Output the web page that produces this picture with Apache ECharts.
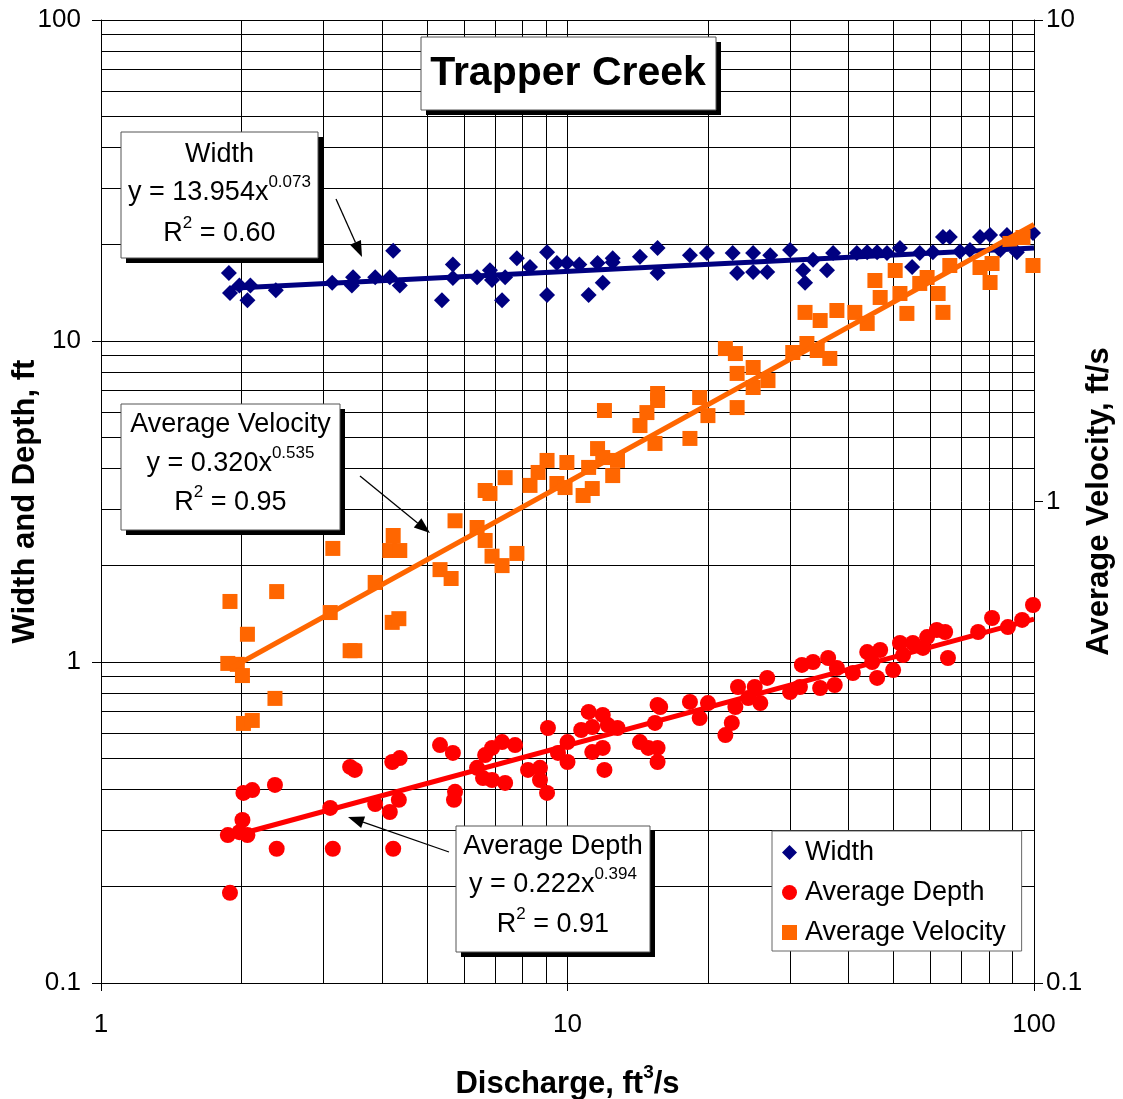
<!DOCTYPE html>
<html><head><meta charset="utf-8">
<script src="https://cdn.jsdelivr.net/npm/echarts@6/dist/echarts.min.js"></script>
<style>html,body{margin:0;padding:0;background:#fff}#c{width:1123px;height:1099px}</style>
</head><body><div id="c"></div>
<script>
// ---- Data ----
const widthQ = [1.88,1.89,1.98,2.06,2.09,2.37,3.13,3.45,3.47,3.87,4.23,4.16,4.37,5.38,5.68,5.68,6.40,6.82,6.89,7.24,7.35,7.79,8.31,9.04,9.04,9.49,9.97,10.6,11.1,11.9,11.6,12.5,12.5,14.3,15.6,15.6,18.3,19.9,22.6,23.1,25.0,25.0,26.8,27.2,30.0,32.0,32.3,33.6,36.0,37.1,41.7,43.9,46.1,51.6,54.8,56.9,60.7,63.8,66.0,76.6,80.5,87.5,99.5,84.6,91.9,48.4,69.4,72.9];
const widthFt = [16.3,14.1,14.9,13.4,14.9,14.4,15.2,14.9,15.8,15.8,19.1,15.8,14.9,13.4,17.3,15.7,15.8,16.6,15.5,13.4,15.8,18.1,17.0,18.9,13.9,17.5,17.5,17.3,13.9,15.2,17.5,17.6,18.1,18.3,19.5,16.3,18.5,18.8,18.8,16.3,18.8,16.4,16.4,18.5,19.2,16.6,15.2,17.9,16.6,18.8,18.8,18.9,18.9,19.5,17.0,18.8,18.9,21.1,21.1,21.1,21.4,21.4,21.7,19.2,18.9,18.8,19.0,19.2];

const depthQ = [1.87,1.98,2.06,2.01,2.02,2.11,2.36,2.38,1.89,3.10,3.14,3.42,3.50,3.87,4.16,4.23,4.21,4.37,4.35,5.33,5.68,5.74,5.71,6.40,6.66,6.89,7.24,7.72,6.59,6.89,7.35,8.23,8.73,8.73,9.04,9.08,9.54,10.0,10.0,10.7,11.1,11.3,11.9,11.3,11.9,12.0,12.2,12.8,14.3,14.9,15.6,15.6,15.4,15.6,15.8,18.3,19.2,20.0,21.8,22.5,22.9,23.2,24.4,25.2,25.9,26.8,30.0,31.5,31.8,33.6,34.8,36.2,37.4,37.8,40.9,43.9,46.1,46.8,45.0,49.9,51.6,52.4,55.0,57.8,59.0,61.9,64.5,65.4,75.9,81.3,87.9,94.3,99.5];
const depthFt = [0.289,0.295,0.289,0.322,0.391,0.399,0.414,0.262,0.191,0.351,0.262,0.471,0.461,0.361,0.341,0.262,0.488,0.502,0.372,0.551,0.521,0.394,0.372,0.468,0.513,0.540,0.563,0.551,0.435,0.429,0.420,0.461,0.468,0.429,0.391,0.623,0.521,0.563,0.488,0.614,0.699,0.627,0.684,0.524,0.540,0.461,0.636,0.623,0.563,0.540,0.540,0.488,0.646,0.735,0.724,0.751,0.669,0.745,0.592,0.646,0.724,0.836,0.772,0.836,0.745,0.892,0.806,0.836,0.979,1.0,0.830,1.029,0.848,0.958,0.924,1.074,0.892,1.090,1.0,0.944,1.146,1.051,1.146,1.106,1.196,1.258,1.240,1.029,1.240,1.371,1.285,1.352,1.505];

const velocityQ = [1.89,2.38,2.06,1.87,1.96,2.01,2.36,2.02,2.11,3.10,3.87,3.14,4.23,4.16,4.37,3.42,3.50,4.21,4.35,5.33,5.63,5.74,6.40,6.66,6.89,7.24,7.79,6.66,6.82,7.35,8.31,8.65,9.04,9.49,9.97,9.88,10.8,11.3,11.1,11.6,11.9,12.5,12.8,12.0,14.3,14.8,15.4,15.6,15.6,18.3,19.2,20.0,21.8,22.9,23.1,25.0,25.0,23.1,26.9,30.4,32.6,34.3,36.5,32.3,34.8,37.8,41.3,43.9,45.6,46.8,50.4,51.6,53.4,56.9,59.0,62.3,63.8,66.0,76.6,81.3,80.5,88.8,94.7,99.5];
const velocityFps = [0.620,0.650,0.530,0.461,0.459,0.435,0.390,0.346,0.351,0.588,0.679,0.799,0.850,0.791,0.791,0.490,0.490,0.561,0.571,0.722,0.692,0.912,0.883,0.830,0.770,0.736,0.780,1.054,1.039,1.121,1.080,1.149,1.217,1.090,1.205,1.069,1.029,1.064,1.177,1.288,1.234,1.132,1.217,1.545,1.438,1.530,1.320,1.676,1.621,1.352,1.644,1.508,2.078,2.029,1.845,1.898,1.725,1.567,1.783,2.039,2.129,2.059,1.982,2.470,2.376,2.493,2.470,2.343,2.877,2.653,3.018,2.704,2.458,2.837,2.919,2.704,2.470,3.091,3.062,3.121,2.850,3.435,3.534,3.091];

// Power-law trend lines (end points)
const widthTrendQ = [1.9, 100];
const widthTrendFt = [14.6, 19.5];
const depthTrendQ = [1.9, 100];
const depthTrendFt = [0.286, 1.36];
const velocityTrendQ = [1.9, 100];
const velocityTrendFps = [0.451, 3.76];

// Tick labels
const xTicks = ['1', '10', '100'];
const yLeftTicks = ['0.1', '1', '10', '100'];
const yRightTicks = ['0.1', '1', '10'];

// Annotation text
const titleText = 'Trapper Creek';
const widthNote = ['Width', 'y = 13.954x{s|0.073}', 'R{s|2} = 0.60'];
const velocityNote = ['Average Velocity', 'y = 0.320x{s|0.535}', 'R{s|2} = 0.95'];
const depthNote = ['Average Depth', 'y = 0.222x{s|0.394}', 'R{s|2} = 0.91'];

// ---- Chart ----
const FONT = "'Liberation Sans', Arial, Helvetica, sans-serif";
const zip = (a, b) => a.map((v, i) => [v, b[i]]);
const fmt = v => String(+v.toPrecision(3));

const xMinor = [], yMinor = [];
[1, 10].forEach(d => { for (let k = 2; k <= 9; k++) xMinor.push(+(k * d).toPrecision(3)); });
[0.1, 1, 10].forEach(d => { for (let k = 2; k <= 9; k++) yMinor.push(+(k * d).toPrecision(3)); });

const chart = echarts.init(document.getElementById('c'), null, { renderer: 'canvas' });

function arrow(x1, y1, x2, y2) {
  const dx = x2 - x1, dy = y2 - y1, L = Math.hypot(dx, dy);
  const ux = dx / L, uy = dy / L, hl = 16, hw = 6;
  const bx = x2 - ux * hl, by = y2 - uy * hl;
  return [
    { type: 'line', silent: true, z: 100, shape: { x1, y1, x2: bx, y2: by }, style: { stroke: '#000', lineWidth: 1.3 } },
    { type: 'polygon', silent: true, z: 100, shape: { points: [[x2, y2], [bx - uy * hw, by + ux * hw], [bx + uy * hw, by - ux * hw]] }, style: { fill: '#000' } }
  ];
}

function noteBox(x, y, w, h, lines, lineYs) {
  const els = [
    { type: 'rect', silent: true, z: 100, shape: { x: x + 5, y: y + 5, width: w, height: h }, style: { fill: '#000' } },
    { type: 'rect', silent: true, z: 101, shape: { x, y, width: w, height: h }, style: { fill: '#fff', stroke: '#555', lineWidth: 1 } }
  ];
  lines.forEach((t, i) => {
    els.push({
      type: 'text', silent: true, z: 102, x: x + w / 2, y: lineYs[i],
      style: {
        text: t, fill: '#000', font: '27px ' + FONT, align: 'center', verticalAlign: 'middle',
        lineHeight: 38,
        rich: { s: { fontSize: 17, fontFamily: FONT, lineHeight: 17, verticalAlign: 'top', fill: '#000' } }
      }
    });
  });
  return els;
}

const graphics = [
  { type: 'rect', silent: true, z: 100, shape: { x: 426, y: 42, width: 295, height: 73 }, style: { fill: '#000' } },
  { type: 'rect', silent: true, z: 101, shape: { x: 421, y: 37, width: 295, height: 73 }, style: { fill: '#fff', stroke: '#555', lineWidth: 1 } },
  { type: 'text', silent: true, z: 102, x: 568, y: 74, style: { text: titleText, fill: '#000', font: 'bold 41px ' + FONT, align: 'center', verticalAlign: 'middle' } },
  ...noteBox(121, 132, 197, 126, widthNote, [155, 193, 234]),
  ...noteBox(121, 404, 219, 126, velocityNote, [425, 464, 503]),
  ...noteBox(456, 826, 194, 126, depthNote, [847, 885, 925]),
  ...arrow(336, 199, 362, 257),
  ...arrow(360, 476, 430, 533),
  ...arrow(449, 852, 348, 817)
];

const axisNameStyle = {
  fontFamily: FONT, fontSize: 31, fontWeight: 'bold', color: '#000'
};
const xNameStyle = {
  fontFamily: FONT, fontSize: 31, fontWeight: 'bold', color: '#000', lineHeight: 42,
  rich: { s: { fontFamily: FONT, fontSize: 19, fontWeight: 'bold', color: '#000', lineHeight: 19, verticalAlign: 'top' } }
};

const option = {
  animation: false,
  backgroundColor: '#fff',
  grid: { left: 101, right: 89, top: 20, bottom: 116, containLabel: false, outerBoundsMode: 'none' },
  xAxis: {
    type: 'log', logBase: 10, min: 1, max: 100,
    axisLine: { show: true, lineStyle: { color: '#000', width: 1 } },
    axisTick: { show: true, length: 8, lineStyle: { color: '#000' } },
    axisLabel: { fontFamily: FONT, fontSize: 26, color: '#000', margin: 29,
      formatter: v => xTicks.includes(fmt(v)) ? fmt(v) : '' },
    splitLine: { show: true, lineStyle: { color: '#000', width: 1 } },
    name: 'Discharge, ft{s|3}/s', nameLocation: 'middle', nameGap: 80,
    nameTextStyle: xNameStyle
  },
  yAxis: [
    {
      type: 'log', logBase: 10, min: 0.1, max: 100, position: 'left',
      axisLine: { show: true, lineStyle: { color: '#000', width: 1 } },
      axisTick: { show: true, length: 9, lineStyle: { color: '#000' } },
      axisLabel: { fontFamily: FONT, fontSize: 26, color: '#000', margin: 20,
        formatter: v => yLeftTicks.includes(fmt(v)) ? fmt(v) : '' },
      splitLine: { show: true, lineStyle: { color: '#000', width: 1 } },
      name: 'Width and Depth, ft', nameLocation: 'middle', nameRotate: 90, nameGap: 60,
      nameMoveOverlap: false,
      nameTextStyle: axisNameStyle
    },
    {
      type: 'log', logBase: 10, min: 0.1, max: 10, position: 'right',
      axisLine: { show: true, lineStyle: { color: '#000', width: 1 } },
      axisTick: { show: true, length: 9, lineStyle: { color: '#000' } },
      axisLabel: { fontFamily: FONT, fontSize: 26, color: '#000', margin: 12,
        formatter: v => yRightTicks.includes(fmt(v)) ? fmt(v) : '' },
      splitLine: { show: false },
      name: 'Average Velocity, ft/s', nameLocation: 'middle', nameRotate: 90, nameGap: 50,
      nameMoveOverlap: false,
      nameTextStyle: axisNameStyle
    }
  ],
  legend: {
    orient: 'vertical', left: 772, top: 831,
    backgroundColor: '#fff', borderColor: '#666', borderWidth: 1,
    padding: [8, 16, 5, 10], itemGap: 13, itemWidth: 15, itemHeight: 15,
    textStyle: { fontFamily: FONT, fontSize: 27, color: '#000', padding: [0, 0, 0, 3] },
    data: [
      { name: 'Width', icon: 'diamond' },
      { name: 'Average Depth', icon: 'circle' },
      { name: 'Average Velocity', icon: 'rect' }
    ],
    selectedMode: false, z: 50
  },
  graphic: graphics,
  series: [
    {
      name: 'grid', type: 'line', data: [], silent: true, z: 0,
      markLine: {
        silent: true, symbol: ['none', 'none'], z: 0, animation: false,
        label: { show: false }, emphasis: { disabled: true },
        lineStyle: { color: '#000', width: 1, type: 'solid', opacity: 1 },
        data: [...xMinor.map(v => ({ xAxis: v })), ...yMinor.map(v => ({ yAxis: v }))]
      }
    },
    { name: 'Width', type: 'scatter', xAxisIndex: 0, yAxisIndex: 0, z: 3,
      symbol: 'diamond', symbolSize: 16, itemStyle: { color: '#000080', opacity: 1 },
      data: zip(widthQ, widthFt) },
    { name: 'Average Depth', type: 'scatter', xAxisIndex: 0, yAxisIndex: 0, z: 3,
      symbol: 'circle', symbolSize: 16, itemStyle: { color: '#FF0000', opacity: 1 },
      data: zip(depthQ, depthFt) },
    { name: 'Average Velocity', type: 'scatter', xAxisIndex: 0, yAxisIndex: 1, z: 3,
      symbol: 'rect', symbolSize: 15, itemStyle: { color: '#FF6600', opacity: 1 },
      data: zip(velocityQ, velocityFps) },
    { name: 'Width trend', type: 'line', yAxisIndex: 0, z: 4, showSymbol: false, silent: true,
      lineStyle: { color: '#000080', width: 5 }, data: zip(widthTrendQ, widthTrendFt) },
    { name: 'Depth trend', type: 'line', yAxisIndex: 0, z: 4, showSymbol: false, silent: true,
      lineStyle: { color: '#FF0000', width: 5 }, data: zip(depthTrendQ, depthTrendFt) },
    { name: 'Velocity trend', type: 'line', yAxisIndex: 1, z: 4, showSymbol: false, silent: true,
      lineStyle: { color: '#FF6600', width: 5 }, data: zip(velocityTrendQ, velocityTrendFps) }
  ]
};
chart.setOption(option);
</script>
</body></html>
